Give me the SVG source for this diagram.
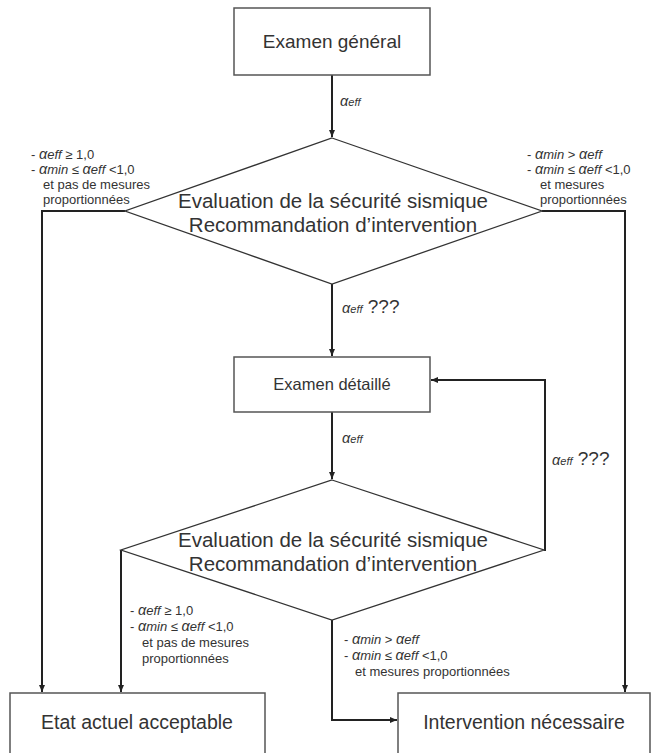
<svg xmlns="http://www.w3.org/2000/svg" width="658" height="753" viewBox="0 0 658 753">
<style>
.box{fill:#fff;stroke:#555;stroke-width:1.5}
.dia{fill:#fff;stroke:#333;stroke-width:1.3}
.ln{fill:none;stroke:#222;stroke-width:2}
.t{font-family:"Liberation Sans",Arial,sans-serif;fill:#333}
.lbl{font-family:"Liberation Sans",Arial,sans-serif;fill:#333;font-size:13px}
.it{font-style:italic}
.a{font-style:italic;font-size:14.5px}
</style>
<defs>
<marker id="ah" markerWidth="8" markerHeight="8" refX="7" refY="4" orient="auto" markerUnits="userSpaceOnUse">
<path d="M0,1 L7,4 L0,7 Z" fill="#222"/>
</marker>
</defs>
<g id="connectors">
<line class="ln" x1="332" y1="75" x2="332" y2="137" marker-end="url(#ah)"/>
<line class="ln" x1="332" y1="284" x2="332" y2="356" marker-end="url(#ah)"/>
<line class="ln" x1="332" y1="412" x2="332" y2="479" marker-end="url(#ah)"/>
<polyline class="ln" points="125,211 42,211 42,692" marker-end="url(#ah)"/>
<polyline class="ln" points="542,211 625,211 625,692" marker-end="url(#ah)"/>
<polyline class="ln" points="544,550 545,550 545,380 431,380" marker-end="url(#ah)"/>
<polyline class="ln" points="121,550 121,692" marker-end="url(#ah)"/>
<polyline class="ln" points="332,620 332,720 397,720" marker-end="url(#ah)"/>
</g>
<g id="n1">
<rect class="box" x="234" y="8" width="196" height="67"/>
<text class="t" x="332" y="48" font-size="19" text-anchor="middle">Examen général</text>
</g>
<g id="d1">
<polygon class="dia" points="332,138 542,211 332,284 125,211"/>
<text class="t" x="333" y="208" font-size="20.5" text-anchor="middle">Evaluation de la sécurité sismique</text>
<text class="t" x="333" y="232" font-size="20.5" text-anchor="middle">Recommandation d’intervention</text>
</g>
<g id="n2">
<rect class="box" x="234" y="357" width="196" height="55"/>
<text class="t" x="332" y="390" font-size="16.5" text-anchor="middle">Examen détaillé</text>
</g>
<g id="d2">
<polygon class="dia" points="332,480 544,550 332,620 121,550"/>
<text class="t" x="333" y="547" font-size="20.5" text-anchor="middle">Evaluation de la sécurité sismique</text>
<text class="t" x="333" y="571" font-size="20.5" text-anchor="middle">Recommandation d’intervention</text>
</g>
<g id="n3">
<rect class="box" x="10" y="693" width="255" height="70"/>
<text class="t" x="137" y="729" font-size="19.5" text-anchor="middle">Etat actuel acceptable</text>
</g>
<g id="n4">
<rect class="box" x="398" y="693" width="252" height="70"/>
<text class="t" x="524" y="729" font-size="19.5" text-anchor="middle">Intervention nécessaire</text>
</g>
<g id="labels">
<text class="lbl" x="340" y="106"><tspan class="a">α</tspan><tspan class="it" font-size="11">eff</tspan></text>
<text class="lbl" x="342" y="313"><tspan class="a" font-size="16">α</tspan><tspan class="it" font-size="11">eff</tspan><tspan font-size="19"> ???</tspan></text>
<text class="lbl" x="342" y="443"><tspan class="a">α</tspan><tspan class="it" font-size="11">eff</tspan></text>
<text class="lbl" x="552" y="465"><tspan class="a" font-size="16">α</tspan><tspan class="it" font-size="11">eff</tspan><tspan font-size="19"> ???</tspan></text>
<text class="lbl" x="31" y="159">- <tspan class="a">α</tspan><tspan class="it">eff</tspan> ≥ 1,0</text>
<text class="lbl" x="31" y="174">- <tspan class="a">α</tspan><tspan class="it">min</tspan> ≤ <tspan class="a">α</tspan><tspan class="it">eff</tspan> &lt;1,0</text>
<text class="lbl" x="43" y="189">et pas de mesures</text>
<text class="lbl" x="43" y="204">proportionnées</text>
<text class="lbl" x="527" y="159">- <tspan class="a">α</tspan><tspan class="it">min</tspan> &gt; <tspan class="a">α</tspan><tspan class="it">eff</tspan></text>
<text class="lbl" x="527" y="174">- <tspan class="a">α</tspan><tspan class="it">min</tspan> ≤ <tspan class="a">α</tspan><tspan class="it">eff</tspan> &lt;1,0</text>
<text class="lbl" x="540" y="189">et mesures</text>
<text class="lbl" x="540" y="204">proportionnées</text>
<text class="lbl" x="130" y="615">- <tspan class="a">α</tspan><tspan class="it">eff</tspan> ≥ 1,0</text>
<text class="lbl" x="130" y="631">- <tspan class="a">α</tspan><tspan class="it">min</tspan> ≤ <tspan class="a">α</tspan><tspan class="it">eff</tspan> &lt;1,0</text>
<text class="lbl" x="142" y="647">et pas de mesures</text>
<text class="lbl" x="142" y="663">proportionnées</text>
<text class="lbl" x="344" y="644">- <tspan class="a">α</tspan><tspan class="it">min</tspan> &gt; <tspan class="a">α</tspan><tspan class="it">eff</tspan></text>
<text class="lbl" x="344" y="660">- <tspan class="a">α</tspan><tspan class="it">min</tspan> ≤ <tspan class="a">α</tspan><tspan class="it">eff</tspan> &lt;1,0</text>
<text class="lbl" x="355" y="676">et mesures proportionnées</text>
</g>
</svg>
